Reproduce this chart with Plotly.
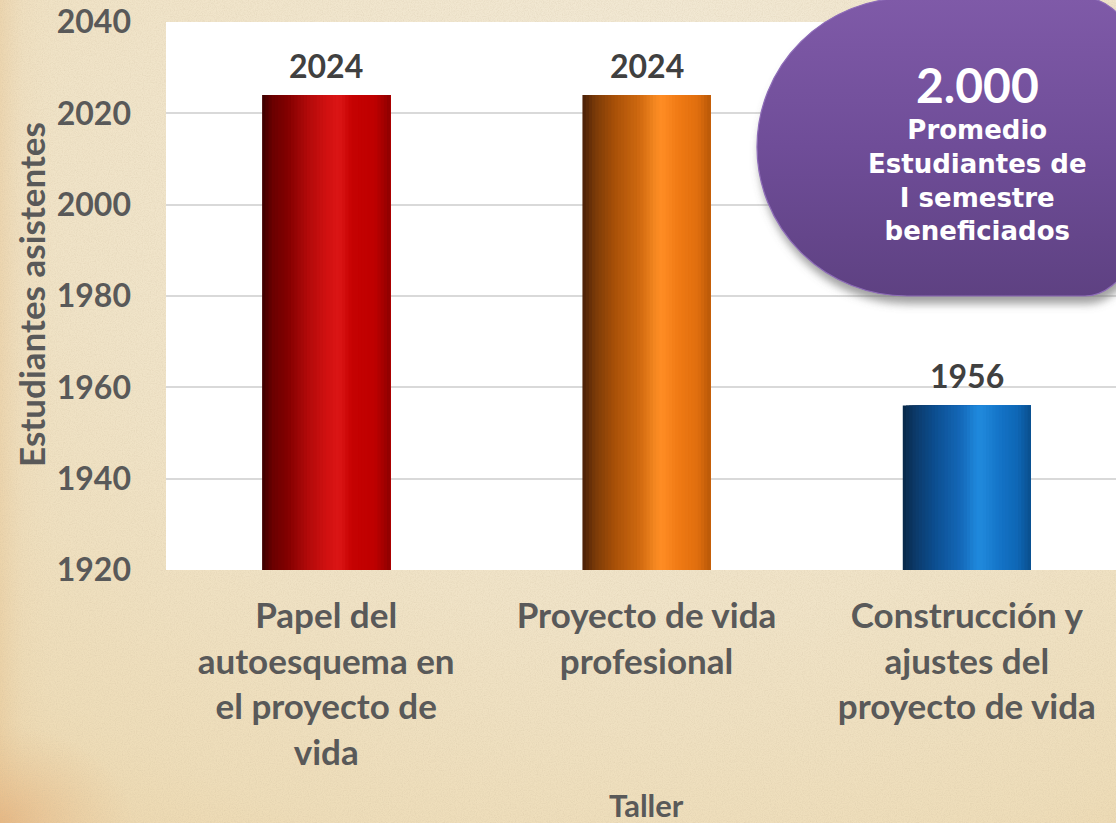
import base64
import plotly.graph_objects as go

# ---------------- data ----------------
categories = [
    "Papel del<br>autoesquema en<br>el proyecto de<br>vida",
    "Proyecto de vida<br>profesional",
    "Construcción y<br>ajustes del<br>proyecto de vida",
]
values = [2024, 2024, 1956]
y_ticks = [1920, 1940, 1960, 1980, 2000, 2020, 2040]
bubble_value = "2.000"
bubble_lines = ["Promedio", "Estudiantes de", "I semestre", "beneficiados"]
x_title = "Taller"
y_title = "Estudiantes asistentes"

# ---------------- styles ----------------
W, H = 1116, 823
PL, PT, PR, PB = 166, 22, 1116, 570
FONT = "Lato, 'Open Sans', sans-serif"
BUBBLE_FONT = "'DejaVu Sans', Lato, sans-serif"
BAR_W = 0.4
N_STRIPS = 40

gradients = [
    [(0, "#3C0000"), (0.08, "#6A0000"), (0.2, "#820000"), (0.35, "#B00A0A"),
     (0.5, "#D01010"), (0.6, "#DC1616"), (0.7, "#C60202"), (0.88, "#BE0000"), (1.0, "#8E0000")],
    [(0, "#4A2008"), (0.1, "#7A3A08"), (0.25, "#A85008"), (0.45, "#D06A10"),
     (0.58, "#F88A22"), (0.62, "#FF8C24"), (0.75, "#F07A14"), (0.9, "#E06E0E"), (1.0, "#B85808")],
    [(0, "#082848"), (0.1, "#0C3A6A"), (0.25, "#0C4E90"), (0.45, "#1468B8"),
     (0.58, "#1E88DC"), (0.62, "#2088DA"), (0.75, "#1474C8"), (0.9, "#0E66B4"), (1.0, "#0A4E8C")],
]


def hex2rgb(h):
    h = h.lstrip("#")
    return tuple(int(h[i:i + 2], 16) for i in (0, 2, 4))


def grad_color(stops, t):
    for (t0, c0), (t1, c1) in zip(stops[:-1], stops[1:]):
        if t0 <= t <= t1:
            f = 0 if t1 == t0 else (t - t0) / (t1 - t0)
            a, b = hex2rgb(c0), hex2rgb(c1)
            return "rgb(%d,%d,%d)" % tuple(round(a[i] + (b[i] - a[i]) * f) for i in range(3))
    return stops[-1][1]


def px(x):
    return (x - PL) / (PR - PL)


def py(y):
    return (PB - y) / (PB - PT)


def svg_uri(svg):
    return "data:image/svg+xml;base64," + base64.b64encode(svg.encode("utf-8")).decode("ascii")


# ---------------- background (parchment + white plot area) ----------------
bg_svg = f"""<svg xmlns='http://www.w3.org/2000/svg' width='{W}' height='{H}' viewBox='0 0 {W} {H}' preserveAspectRatio='none'>
<defs>
<radialGradient id='g' cx='0.6' cy='0.2' r='1.0'>
<stop offset='0' stop-color='#F2EAD8'/>
<stop offset='0.55' stop-color='#F0E3C7'/>
<stop offset='0.85' stop-color='#EEDDB9'/>
<stop offset='1' stop-color='#ECD6AC'/>
</radialGradient>
<linearGradient id='l' x1='0' y1='0' x2='1' y2='0'>
<stop offset='0' stop-color='#E6BE88' stop-opacity='0.35'/>
<stop offset='0.02' stop-color='#E8C594' stop-opacity='0.1'/>
<stop offset='0.05' stop-color='#EED9B4' stop-opacity='0'/>
</linearGradient>
<radialGradient id='c' cx='0' cy='1' r='0.12'>
<stop offset='0' stop-color='#E4AE78' stop-opacity='0.7'/>
<stop offset='1' stop-color='#E8C08E' stop-opacity='0'/>
</radialGradient>
<filter id='n' x='0' y='0' width='100%' height='100%'>
<feTurbulence type='fractalNoise' baseFrequency='0.85' numOctaves='2' seed='4'/>
<feColorMatrix values='0 0 0 0 0.55  0 0 0 0 0.45  0 0 0 0 0.30  0.9 0 0 0 -0.35'/>
</filter>
</defs>
<rect width='{W}' height='{H}' fill='url(#g)'/>
<rect width='{W}' height='{H}' fill='url(#l)'/>
<rect width='{W}' height='{H}' fill='url(#c)'/>
<rect width='{W}' height='{H}' filter='url(#n)' opacity='0.5'/>
<rect x='{PL}' y='{PT}' width='{PR - PL}' height='{PB - PT}' fill='#FFFFFF'/>
</svg>"""

# ---------------- purple bubble ----------------
BX0, BY0, BW, BH = 740, 0, 376, 330
bubble_svg = f"""<svg xmlns='http://www.w3.org/2000/svg' width='{BW}' height='{BH}' viewBox='0 0 {BW} {BH}' preserveAspectRatio='none'>
<defs>
<linearGradient id='p' x1='0' y1='0' x2='0' y2='1'>
<stop offset='0' stop-color='#7F5AA8'/>
<stop offset='0.5' stop-color='#6F4D98'/>
<stop offset='1' stop-color='#5E4182'/>
</linearGradient>
<filter id='s' x='-20%' y='-20%' width='140%' height='140%'>
<feGaussianBlur stdDeviation='4'/>
</filter>
</defs>
<path d='M 167 -2 H 345 A 74 149 0 0 1 419 147 A 74 149 0 0 1 345 296 H 167 A 150 149 0 0 1 17 147 A 150 149 0 0 1 167 -2 Z'
 transform='translate(2,8)' fill='#6E6E6E' fill-opacity='0.65' filter='url(#s)'/>
<path d='M 167 -2 H 345 A 74 149 0 0 1 419 147 A 74 149 0 0 1 345 296 H 167 A 150 149 0 0 1 17 147 A 150 149 0 0 1 167 -2 Z'
 fill='url(#p)' stroke='#8E6CB8' stroke-width='1.2'/>
</svg>"""

fig = go.Figure()

# gradient bars built from vertical strips (each strip spans to the bar's right edge)
for k in range(N_STRIPS):
    t = (k + 0.5) / N_STRIPS
    start = -BAR_W / 2 + k * BAR_W / N_STRIPS
    fig.add_trace(go.Bar(
        x=categories,
        y=values,
        width=[BAR_W - k * BAR_W / N_STRIPS] * len(values),
        offset=[start] * len(values),
        marker=dict(color=[grad_color(g, t) for g in gradients], line=dict(width=0)),
        showlegend=False,
        hoverinfo="skip",
    ))

annotations = []
# data labels
for c, v in zip(categories, values):
    annotations.append(dict(
        x=c, y=v, xref="x", yref="y", text=f"{v}", showarrow=False,
        yshift=30, yanchor="middle",
        font=dict(family=FONT, size=32, color="#404040", weight="bold"),
    ))

# axis titles
annotations.append(dict(
    x=1, y=py(805), xref="x", yref="paper", text=x_title, showarrow=False,
    yanchor="middle", xanchor="center",
    font=dict(family=FONT, size=31, color="#595959", weight="bold"),
))
annotations.append(dict(
    x=px(31), y=py(295), xref="paper", yref="paper", text=y_title, showarrow=False,
    textangle=-90, xanchor="center", yanchor="middle",
    font=dict(family=FONT, size=35, color="#595959", weight="bold"),
))

# bubble texts
annotations.append(dict(
    x=px(977), y=py(84), xref="paper", yref="paper", text=bubble_value, showarrow=False,
    xanchor="center", yanchor="middle",
    font=dict(family=FONT, size=48, color="#FFFFFF", weight="bold"),
))
annotations.append(dict(
    x=px(977), y=py(180), xref="paper", yref="paper", text="<br>".join(bubble_lines),
    showarrow=False, xanchor="center", yanchor="middle", align="center",
    font=dict(family=BUBBLE_FONT, size=26, color="#FFFFFF", weight="bold"),
))

fig.update_layout(
    width=W, height=H,
    margin=dict(l=PL, r=W - PR, t=PT, b=H - PB, pad=0),
    paper_bgcolor="#EFE2C6",
    plot_bgcolor="rgba(0,0,0,0)",
    barmode="overlay",
    showlegend=False,
    annotations=annotations,
    images=[
        dict(source=svg_uri(bg_svg), xref="paper", yref="paper",
             x=px(0), y=py(0), sizex=px(W) - px(0), sizey=py(0) - py(H),
             xanchor="left", yanchor="top", sizing="stretch", layer="below"),
        dict(source=svg_uri(bubble_svg), xref="paper", yref="paper",
             x=px(BX0), y=py(BY0), sizex=px(BX0 + BW) - px(BX0), sizey=py(BY0) - py(BY0 + BH),
             xanchor="left", yanchor="top", sizing="stretch", layer="above"),
    ],
    xaxis=dict(
        type="category",
        range=[-0.5, 2.5 - 11 / 320],
        showgrid=False, zeroline=False, showline=False,
        ticks="", ticklabelstandoff=22,
        tickfont=dict(family=FONT, size=35, color="#595959", weight="bold"),
        fixedrange=True,
    ),
    yaxis=dict(
        range=[y_ticks[0], y_ticks[-1]],
        tickvals=y_ticks,
        showgrid=True, gridcolor="#D9D9D9", gridwidth=2,
        zeroline=False,
        showline=False,
        ticks="", ticklabelstandoff=34,
        tickfont=dict(family=FONT, size=32, color="#595959", weight="bold"),
        fixedrange=True,
    ),
)

fig.write_html(
    "out.html",
    config={"displayModeBar": False},
    post_script="document.body.style.margin='0';document.body.style.padding='0';document.body.style.overflow='hidden';",
)
